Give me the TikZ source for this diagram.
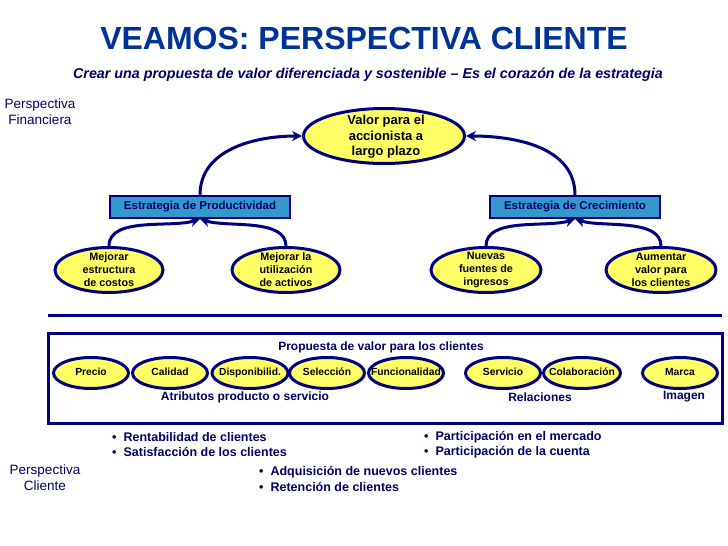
\documentclass[tikz,border=0pt]{standalone}
\usepackage{fontspec}
\setmainfont{Liberation Sans}
\usetikzlibrary{arrows.meta,shapes.geometric}
\definecolor{navy}{RGB}{0,0,128}
\definecolor{titleblue}{RGB}{0,51,153}
\definecolor{yell}{RGB}{255,255,102}
\definecolor{boxblue}{RGB}{51,153,204}
\definecolor{bullblue}{RGB}{0,0,102}
\begin{document}
\begin{tikzpicture}[x=1pt,y=-1pt,
  ell/.style={ellipse,draw=navy,fill=yell,line width=3pt,inner sep=0pt},
  etxt/.style={align=center,inner sep=0pt,font=\fontsize{10.8}{13}\selectfont\bfseries},
  rtxt/.style={inner sep=0pt,text height=7.6pt,text depth=2.2pt,font=\fontsize{10.3}{11}\selectfont\bfseries},
  strat/.style={draw=navy,fill=boxblue,line width=2pt,minimum height=22pt,inner sep=0pt,
     font=\fontsize{11.5}{12}\selectfont\bfseries,text=bullblue},
  comic/.style={inner sep=0pt,text=bullblue,font=\fontsize{12}{14}\selectfont\bfseries},
  persp/.style={inner sep=0pt,align=center,text=bullblue,font=\fontsize{13.5}{16}\selectfont},
  bul/.style={anchor=west,inner sep=0pt,text=bullblue,font=\fontsize{12.5}{14}\selectfont\bfseries},
  arr/.style={draw=navy,line width=3pt,-{Stealth[length=10pt,width=10pt]}}]
\useasboundingbox (0,0) rectangle (728,546);

% title
\node[inner sep=0pt,text=titleblue,font=\fontsize{32}{36}\selectfont\bfseries] (title) at (364,38) {VEAMOS: PERSPECTIVA CLIENTE};
\node[inner sep=0pt,text=bullblue,font=\fontsize{14.3}{16}\selectfont\bfseries\itshape] (sub) at (368,75)
  {Crear una propuesta de valor diferenciada y sostenible -- Es el corazón de la estrategia};

\node[persp] (pfin) at (40,112) {Perspectiva\\Financiera};

% top ellipse
\node[ell,minimum width=161pt,minimum height=55pt] (valor) at (384,136) {};
\node[etxt,font=\fontsize{13}{15.5}\selectfont\bfseries] (valortxt) at (386,137) {Valor para el\\accionista a\\largo plazo};

% strategy boxes
\node[strat,minimum width=180pt] (prod) at (200,207) {Estrategia de Productividad};
\node[strat,minimum width=170pt] (crec) at (575,207) {Estrategia de Crecimiento};

% small ellipses
\node[ell,minimum width=108pt,minimum height=45pt] (e1) at (109,270) {};
\node[etxt] (t1) at (109,270) {Mejorar\\estructura\\de costos};
\node[ell,minimum width=108pt,minimum height=45pt] (e2) at (286,270) {};
\node[etxt] (t2) at (286,270) {Mejorar la\\utilización\\de activos};
\node[ell,minimum width=110pt,minimum height=45pt] (e3) at (486,270) {};
\node[etxt] (t3) at (486,270) {Nuevas\\fuentes de\\ingresos};
\node[ell,minimum width=110pt,minimum height=45pt] (e4) at (661,270) {};
\node[etxt] (t4) at (661,270) {Aumentar\\valor para\\los clientes};

% arrows
\draw[arr] (prod.north) to[out=90,in=180] (valor.west);
\draw[arr] (crec.north) to[out=90,in=0] (valor.east);
\draw[arr] (e1.north) to[out=90,in=-162,looseness=0.8] (prod.south);
\draw[arr] (e2.north) to[out=90,in=-18,looseness=0.8] (prod.south);
\draw[arr] (e3.north) to[out=90,in=-162,looseness=0.8] (crec.south);
\draw[arr] (e4.north) to[out=90,in=-18,looseness=0.8] (crec.south);

% separator line and value proposition frame
\coordinate (l1) at (48,315);
\coordinate (l2) at (722,315);
\draw[navy,line width=3pt] (l1) -- (l2);
\node[draw=navy,line width=3pt,minimum width=674pt,minimum height=90pt,inner sep=0pt] (frame) at (385,378) {};

\node[comic] (prop) at (381,347) {Propuesta de valor para los clientes};

\foreach \nm/\x/\w/\t in {r1/91/75/Precio, r2/170/75/Calidad, r3/250/76/Disponibilid., r4/327/75/Selección,
   r5/406/75/Funcionalidad, r6/503/75/Servicio, r7/582/77/Colaboración, r8/680/75/Marca}{
  \node[ell,minimum width=\w pt,minimum height=31pt] (\nm) at (\x,373) {};
  \node[rtxt] (\nm t) at (\x,373) {\t};
}

\node[comic] (atr) at (245,397) {Atributos producto o servicio};
\node[comic] (rel) at (540,397) {Relaciones};
\node[comic] (img) at (684,397) {Imagen};

% bullets
\node[bul] (b1) at (112,437) {\textbullet\hspace{7pt}Rentabilidad de clientes};
\node[bul] (b2) at (112,452) {\textbullet\hspace{7pt}Satisfacción de los clientes};
\node[bul] (b3) at (424,437) {\textbullet\hspace{7pt}Participación en el mercado};
\node[bul] (b4) at (424,452) {\textbullet\hspace{7pt}Participación de la cuenta};
\node[bul] (b5) at (259,472) {\textbullet\hspace{7pt}Adquisición de nuevos clientes};
\node[bul] (b6) at (259,487) {\textbullet\hspace{7pt}Retención de clientes};

\node[persp] (pcli) at (45,478) {Perspectiva\\Cliente};
\end{tikzpicture}
\end{document}
